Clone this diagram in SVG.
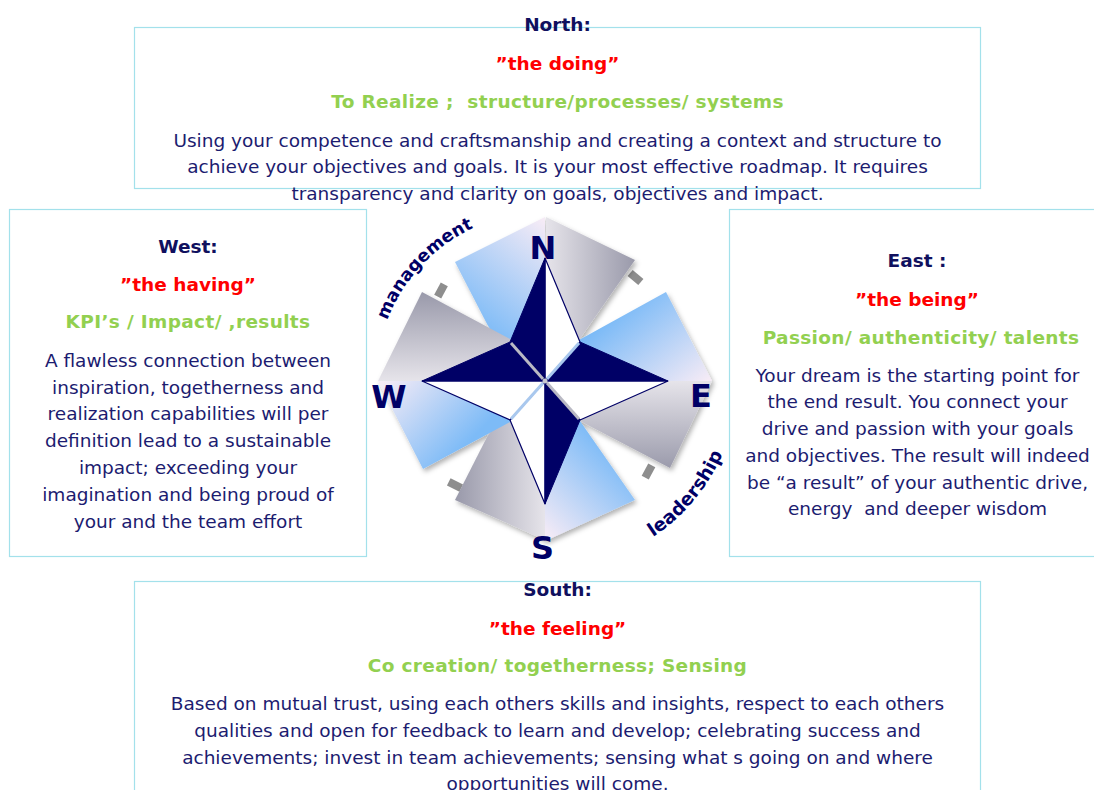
<svg xmlns="http://www.w3.org/2000/svg" width="1094" height="790" viewBox="0 0 1094 790">
  <style>
    .box { fill: none; stroke: #a3e1eb; stroke-width: 1.2; }
    text { font-family: "DejaVu Sans", Verdana, sans-serif; font-size: 18.5px; text-anchor: middle; }
    .hd { font-weight: bold; fill: #10105e; }
    .red { font-weight: bold; fill: #ff0000; }
    .grn { font-weight: bold; fill: #92d050; letter-spacing: 0.35px; }
    .body { fill: #1c1c70; }
    .pre { white-space: pre; }
    .pt { font-weight: bold; font-size: 32px; fill: #000066; }
    .arc { font-weight: bold; font-size: 18.5px; fill: #000066; text-anchor: start; }
    .navy { fill: #000066; stroke: #000066; stroke-width: 1; stroke-linejoin: round; }
    .white { fill: #ffffff; stroke: #000066; stroke-width: 1.2; stroke-linejoin: round; }
    .tab { fill: #8e8e8e; }
  </style>
  <defs>
    <linearGradient id="gNNW" gradientUnits="userSpaceOnUse" x1="545" y1="222" x2="468" y2="318">
      <stop offset="0" stop-color="#f5ebf6"/><stop offset="1" stop-color="#7dbbf7"/>
    </linearGradient>
    <linearGradient id="gENE" gradientUnits="userSpaceOnUse" x1="708" y1="380" x2="640" y2="296">
      <stop offset="0" stop-color="#f5ebf6"/><stop offset="1" stop-color="#7dbbf7"/>
    </linearGradient>
    <linearGradient id="gSSE" gradientUnits="userSpaceOnUse" x1="548" y1="538" x2="622" y2="462">
      <stop offset="0" stop-color="#f5ebf6"/><stop offset="1" stop-color="#7dbbf7"/>
    </linearGradient>
    <linearGradient id="gWSW" gradientUnits="userSpaceOnUse" x1="382" y1="384" x2="455" y2="456">
      <stop offset="0" stop-color="#f5ebf6"/><stop offset="1" stop-color="#7dbbf7"/>
    </linearGradient>
    <linearGradient id="gNNE" gradientUnits="userSpaceOnUse" x1="546" y1="0" x2="636" y2="0">
      <stop offset="0" stop-color="#e6e4ea"/><stop offset="1" stop-color="#9999aa"/>
    </linearGradient>
    <linearGradient id="gWNW" gradientUnits="userSpaceOnUse" x1="0" y1="381" x2="0" y2="292">
      <stop offset="0" stop-color="#e6e4ea"/><stop offset="1" stop-color="#9999aa"/>
    </linearGradient>
    <linearGradient id="gESE" gradientUnits="userSpaceOnUse" x1="0" y1="381" x2="0" y2="470">
      <stop offset="0" stop-color="#e6e4ea"/><stop offset="1" stop-color="#9999aa"/>
    </linearGradient>
    <linearGradient id="gSSW" gradientUnits="userSpaceOnUse" x1="545" y1="0" x2="455" y2="0">
      <stop offset="0" stop-color="#e6e4ea"/><stop offset="1" stop-color="#9999aa"/>
    </linearGradient>
    <filter id="shade" x="-20%" y="-20%" width="140%" height="140%">
      <feDropShadow dx="2" dy="3" stdDeviation="2.5" flood-color="#000000" flood-opacity="0.3"/>
    </filter>
    <!-- baseline arcs around the rose centre (545,381) -->
    <path id="arcMgmt" d="M 387.2 320.4 A 169 169 0 0 1 487.2 222.2"/>
    <path id="arcLead" d="M 653 537 A 190 190 0 0 0 728 440"/>
  </defs>

  <rect width="1094" height="790" fill="#ffffff"/>

  <!-- North -->
  <g id="north">
    <rect class="box" x="134.5" y="27.5" width="846" height="161"/>
    <text class="hd" x="557.5" y="31">North:</text>
    <text class="red" x="557.5" y="70">”the doing”</text>
    <text class="grn pre" x="557.5" y="108">To Realize ;  structure/processes/ systems</text>
    <text class="body" x="557.5" y="146.5">Using your competence and craftsmanship and creating a context and structure to</text>
    <text class="body" x="557.5" y="173">achieve your objectives and goals. It is your most effective roadmap. It requires</text>
    <text class="body" x="557.5" y="200">transparency and clarity on goals, objectives and impact.</text>
  </g>

  <!-- West -->
  <g id="west">
    <rect class="box" x="9.5" y="209.5" width="357" height="347"/>
    <text class="hd" x="188" y="253">West:</text>
    <text class="red" x="188" y="291">”the having”</text>
    <text class="grn" x="188" y="328">KPI’s / Impact/ ,results</text>
    <text class="body" x="188" y="367">A flawless connection between</text>
    <text class="body" x="188" y="393.5">inspiration, togetherness and</text>
    <text class="body" x="188" y="420">realization capabilities will per</text>
    <text class="body" x="188" y="447">definition lead to a sustainable</text>
    <text class="body" x="188" y="474">impact; exceeding your</text>
    <text class="body" x="188" y="500.5">imagination and being proud of</text>
    <text class="body" x="188" y="527.5">your and the team effort</text>
  </g>

  <!-- East -->
  <g id="east">
    <rect class="box" x="729.5" y="209.5" width="380" height="347"/>
    <text class="hd" x="917" y="266.5">East :</text>
    <text class="red" x="917" y="306">”the being”</text>
    <text class="grn" x="921" y="343.5">Passion/ authenticity/ talents</text>
    <text class="body" x="917.5" y="381.5">Your dream is the starting point for</text>
    <text class="body" x="917.5" y="408">the end result. You connect your</text>
    <text class="body" x="917.5" y="435">drive and passion with your goals</text>
    <text class="body" x="917.5" y="461.5">and objectives. The result will indeed</text>
    <text class="body" x="917.5" y="488.5">be “a result” of your authentic drive,</text>
    <text class="body pre" x="917.5" y="515">energy  and deeper wisdom</text>
  </g>

  <!-- South -->
  <g id="south">
    <rect class="box" x="134.5" y="581.5" width="846" height="230"/>
    <text class="hd" x="557.5" y="596">South:</text>
    <text class="red" x="557.5" y="634.5">”the feeling”</text>
    <text class="grn" x="557.5" y="672">Co creation/ togetherness; Sensing</text>
    <text class="body" x="557.5" y="710">Based on mutual trust, using each others skills and insights, respect to each others</text>
    <text class="body" x="557.5" y="737">qualities and open for feedback to learn and develop; celebrating success and</text>
    <text class="body" x="557.5" y="763.5">achievements; invest in team achievements; sensing what s going on and where</text>
    <text class="body" x="557.5" y="790">opportunities will come.</text>
  </g>

  <!-- Compass rose -->
  <g id="compass">
    <!-- small thickness tabs behind the fins -->
    <g id="tabs">
      <rect class="tab" x="-7" y="-4" width="14" height="8" transform="translate(441 290.5) rotate(-62)"/>
      <rect class="tab" x="-7" y="-4" width="14" height="8" transform="translate(635.5 277.5) rotate(40)"/>
      <rect class="tab" x="-7" y="-4" width="14" height="8" transform="translate(648.5 471.5) rotate(118)"/>
      <rect class="tab" x="-7" y="-4" width="14" height="8" transform="translate(455 485) rotate(207)"/>
      <rect class="tab" x="679" y="379" width="10" height="4"/>
      <rect class="tab" x="543" y="511" width="4" height="12"/>
    </g>
    <!-- fins -->
    <g id="fins" filter="url(#shade)">
      <polygon points="545,217 455,262 487,324 500,345 545,381" fill="url(#gNNW)"/>
      <polygon points="378,381 422,292 510,339 545,381" fill="url(#gWNW)"/>
      <polygon points="546,217 635,260 579,340 545,381" fill="url(#gNNE)"/>
      <polygon points="712,381 666,292 579,340 545,381" fill="url(#gENE)"/>
      <polygon points="712,381 670,468 580,421 545,381" fill="url(#gESE)"/>
      <polygon points="545,541 635,500 580,421 545,381" fill="url(#gSSE)"/>
      <polygon points="545,540 455,500 487,437 500,418 545,381" fill="url(#gSSW)"/>
      <polygon points="378,381 423,469 510,422 545,381" fill="url(#gWSW)"/>
    </g>
    <!-- four-pointed star -->
    <g id="star">
      <polygon class="white" points="545,258 580,342 545,381"/>
      <polygon class="white" points="668,381 580,420 545,381"/>
      <polygon class="white" points="545,504 510,420 545,381"/>
      <polygon class="white" points="422,381 510,420 545,381"/>
      <polygon class="navy" points="545,258 510,342 545,381"/>
      <polygon class="navy" points="668,381 580,342 545,381"/>
      <polygon class="navy" points="545,504 580,420 545,381"/>
      <polygon class="navy" points="422,381 510,342 545,381"/>
      <!-- bevel strips along the inner diagonals -->
      <line x1="511" y1="343" x2="543" y2="379" stroke="#b9b9c4" stroke-width="3"/>
      <line x1="579" y1="343" x2="547" y2="379" stroke="#a9c8ee" stroke-width="3"/>
      <line x1="579" y1="419" x2="547" y2="383" stroke="#b9b9c4" stroke-width="3"/>
      <line x1="511" y1="419" x2="543" y2="383" stroke="#a9c8ee" stroke-width="3"/>
      <circle cx="545" cy="381" r="2.5" fill="#c8c8d0"/>
    </g>
    <text class="pt" x="543" y="259">N</text>
    <text class="pt" x="389" y="408">W</text>
    <text class="pt" x="701" y="407">E</text>
    <text class="pt" x="542.5" y="559">S</text>
    <text class="arc" style="font-size:17.5px"><textPath href="#arcMgmt">management</textPath></text>
    <text class="arc"><textPath href="#arcLead">leadership</textPath></text>
  </g>
</svg>
